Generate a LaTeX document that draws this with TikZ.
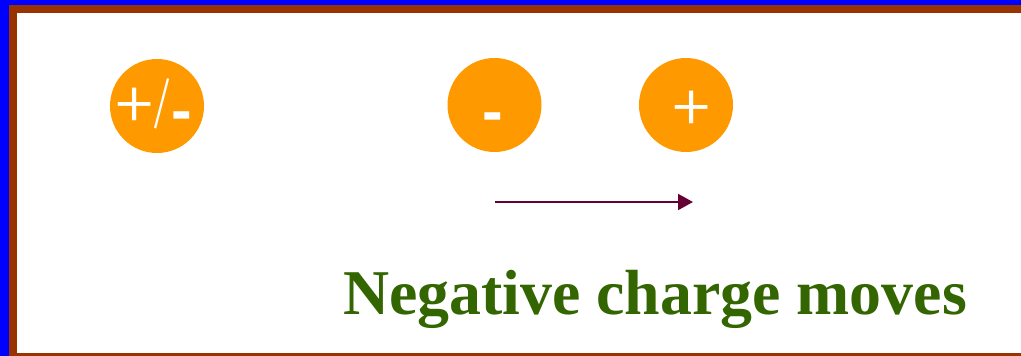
\documentclass[tikz,border=0pt]{standalone}
\usepackage{fontspec}
\setmainfont{Liberation Serif}
\newfontfamily\symlight{Fira Sans ExtraLight}
\newfontfamily\symbold{Liberation Sans}
\usetikzlibrary{arrows.meta}
\definecolor{bordblue}{HTML}{0000FF}
\definecolor{bordbrown}{HTML}{993300}
\definecolor{chargeorange}{HTML}{FF9900}
\definecolor{arrowmaroon}{HTML}{660033}
\definecolor{textgreen}{HTML}{336600}
\newcommand{\plusglyph}{{\symlight\fontsize{94}{100}\selectfont +}}
\newcommand{\slashglyph}{{\symlight\fontsize{56}{60}\selectfont /}}
\newcommand{\minusglyph}{{\symbold\bfseries\fontsize{62}{66}\selectfont -}}
\tikzset{
  charge/.style={circle, fill=chargeorange, minimum size=94pt, inner sep=0pt},
  symtext/.style={text=white, inner sep=0pt},
  movearrow/.style={draw=arrowmaroon, line width=2pt, -{Triangle[length=15pt,width=16pt]}},
  caption/.style={text=textgreen, font=\bfseries\fontsize{63.8}{70}\selectfont, inner sep=0pt, anchor=base west}
}
\begin{document}
\begin{tikzpicture}[x=1pt,y=-1pt]
\useasboundingbox (0,0) rectangle (1021,356);
\fill[bordblue] (0,0) rectangle (1021,356);
\fill[bordbrown] (9,5) rectangle (1021,356);
\fill[white] (17,13) rectangle (1021,353);
\node[charge] (c1) at (157,106) {};
\node[charge] (c2) at (494.5,105) {};
\node[charge] (c3) at (686,105) {};
\node[symtext, anchor=base west] (t1) at (111,135) {\plusglyph\kern-10pt\raisebox{11.5pt}{\slashglyph}\kern-5pt\raisebox{3.5pt}{\minusglyph}};
\node[symtext, anchor=base] (t2) at (492.5,132.3) {\minusglyph};
\node[symtext, anchor=base] (t3) at (691.5,138.5) {\plusglyph};
\coordinate (a1) at (495,202);
\coordinate (a2) at (693,202);
\draw[movearrow] (a1) -- (a2);
\node[caption] (cap) at (343,314) {Negative charge moves};
\end{tikzpicture}
\end{document}
